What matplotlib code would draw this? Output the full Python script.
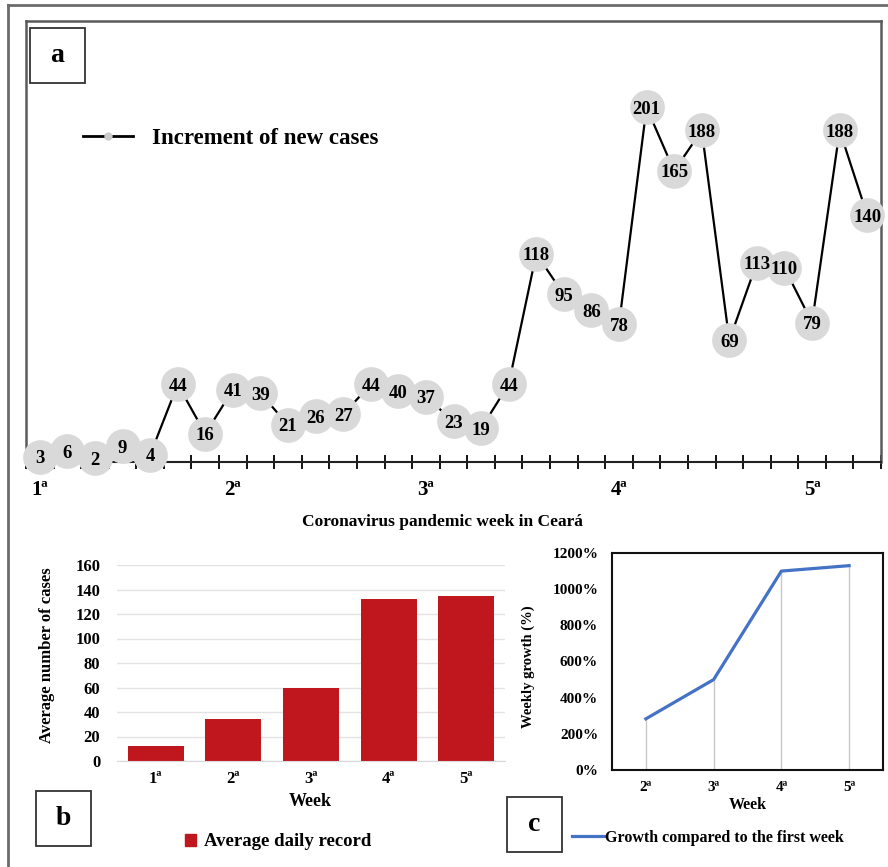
import matplotlib.pyplot as plt
import matplotlib.ticker as mticker
from matplotlib.lines import Line2D
from matplotlib.patches import Patch, Rectangle

# data
new_cases = [3, 6, 2, 9, 4, 44, 16, 41, 39, 21, 26, 27, 44, 40, 37, 23,
             19, 44, 118, 95, 86, 78, 201, 165, 188, 69, 113, 110, 79, 188, 140]
week_start_day = [0, 7, 14, 21, 28]
week_labels = ['1ª', '2ª', '3ª', '4ª', '5ª']
avg_daily = [12, 34, 60, 132, 135]
growth_weeks = ['2ª', '3ª', '4ª', '5ª']
growth_pct = [283, 500, 1100, 1130]

plt.rcParams['font.family'] = ['Liberation Serif', 'DejaVu Serif']
plt.rcParams['font.weight'] = 'bold'

fig = plt.figure(figsize=(8.88, 8.67), dpi=100)


def fx(px):
    return px / 888


def fy(py):
    return 1 - py / 867


# outer frame (left and top edges only, the rest is cropped)
fig.add_artist(Line2D([fx(8), fx(8)], [fy(5), 0], color='#6b6b6b', lw=2))
fig.add_artist(Line2D([fx(8), 1], [fy(5), fy(5)], color='#6b6b6b', lw=2))

# ---- panel a: daily increments ----
ax_a = fig.add_axes([fx(26), fy(462), fx(881) - fx(26), fy(21) - fy(462)])
days = list(range(len(new_cases)))
ax_a.plot(days, new_cases, color='black', lw=1.6, zorder=2)
ax_a.scatter(days, new_cases, s=25 ** 2, color='#d9d9d9', zorder=3, clip_on=False,
             linewidths=0)
for d, v in zip(days, new_cases):
    ax_a.text(d, v, str(v), ha='center', va='center_baseline', fontsize=13.5,
              fontweight='bold', zorder=4)

ax_a.set_xlim(-0.5, len(new_cases) - 0.5)
ax_a.set_ylim(0, 250)
ax_a.set_yticks([])
ax_a.set_xticks(week_start_day)
ax_a.set_xticklabels(week_labels)
ax_a.set_xticks([d - 0.5 for d in days] + [days[-1] + 0.5], minor=True)
ax_a.tick_params(axis='x', which='major', length=0, pad=13, labelsize=15)
ax_a.tick_params(axis='x', which='minor', length=10, direction='inout', width=1.3)
for side in ['left', 'top', 'right']:
    ax_a.spines[side].set_color('#5a5a5a')
    ax_a.spines[side].set_linewidth(1.8)
ax_a.spines['bottom'].set_color('#222222')
ax_a.spines['bottom'].set_linewidth(1.5)

fig.text(fx(442), fy(522), 'Coronavirus pandemic week in Ceará', ha='center',
         va='center', fontsize=12.5, fontweight='bold')

leg_handle = Line2D([0], [0], color='black', lw=2, marker='o', markersize=5,
                    markerfacecolor='#cccccc', markeredgecolor='#cccccc')
fig.legend([leg_handle], ['Increment of new cases'], loc='center left',
           bbox_to_anchor=(fx(83), fy(138)), frameon=False, fontsize=16.5,
           handlelength=2.2, handletextpad=0.8, borderpad=0, borderaxespad=0)

# ---- panel b: average daily record ----
ax_b = fig.add_axes([fx(117), fy(761), fx(505) - fx(117), fy(565) - fy(761)])
xb = list(range(len(week_labels)))
ax_b.bar(xb, avg_daily, width=0.72, color='#c0161e', zorder=2)
ax_b.set_xlim(-0.5, len(week_labels) - 0.5)
ax_b.set_ylim(0, 160)
ax_b.set_yticks(range(0, 161, 20))
ax_b.set_xticks(xb)
ax_b.set_xticklabels(week_labels)
ax_b.grid(axis='y', color='#e3e3e3', lw=1)
ax_b.set_axisbelow(True)
for side in ['left', 'top', 'right']:
    ax_b.spines[side].set_visible(False)
ax_b.spines['bottom'].set_color('#d9d9d9')
ax_b.tick_params(length=0, labelsize=12)
ax_b.tick_params(axis='y', pad=12)
ax_b.tick_params(axis='x', pad=7)
fig.text(fx(47), fy(655), 'Average number of cases', rotation=90, ha='center',
         va='center', fontsize=12, fontweight='bold')
fig.text(fx(310), fy(801), 'Week', ha='center', va='center', fontsize=13,
         fontweight='bold')
fig.legend([Patch(color='#c0161e')], ['Average daily record'], loc='center',
           bbox_to_anchor=(fx(278), fy(842)), frameon=False, fontsize=13.5,
           handlelength=0.6, handleheight=0.6, handletextpad=0.4, borderpad=0)

# ---- panel c: growth compared with first week ----
ax_c = fig.add_axes([fx(612), fy(770), fx(883) - fx(612), fy(553) - fy(770)])
xc = list(range(len(growth_weeks)))
ax_c.vlines(xc, 0, growth_pct, color='#c8c8c8', lw=1, zorder=1)
ax_c.plot(xc, growth_pct, color='#4472c4', lw=2.3, zorder=2)
ax_c.set_xlim(-0.5, len(growth_weeks) - 0.5)
ax_c.set_ylim(0, 1200)
ax_c.set_yticks(range(0, 1201, 200))
ax_c.yaxis.set_major_formatter(mticker.PercentFormatter(decimals=0))
ax_c.set_xticks(xc)
ax_c.set_xticklabels(growth_weeks)
for side in ax_c.spines.values():
    side.set_color('#111111')
    side.set_linewidth(1.5)
ax_c.tick_params(length=0, labelsize=11)
ax_c.tick_params(axis='y', pad=10)
ax_c.tick_params(axis='x', pad=8)
fig.text(fx(528), fy(667), 'Weekly growth (%)', rotation=90, ha='center',
         va='center', fontsize=10.5, fontweight='bold')
fig.text(fx(748), fy(805), 'Week', ha='center', va='center', fontsize=11.5,
         fontweight='bold')
fig.legend([Line2D([0], [0], color='#4472c4', lw=2.3)],
           ['Growth compared to the first week'], loc='center',
           bbox_to_anchor=(fx(708), fy(838)), frameon=False, fontsize=11.5,
           handlelength=2.0, handletextpad=0.1, borderpad=0)

# ---- panel letter boxes ----
for label, x0, y0 in [('a', 30, 28), ('b', 36, 791), ('c', 507, 797)]:
    fig.add_artist(Rectangle((fx(x0), fy(y0 + 55)), 55 / 888, 55 / 867,
                             transform=fig.transFigure, fill=False,
                             edgecolor='#333333', lw=1.3))
    fig.text(fx(x0 + 27.5), fy(y0 + 27.5), label, ha='center', va='center',
             fontsize=20, fontweight='bold')

fig.savefig('out.png', dpi=100, facecolor='white')
